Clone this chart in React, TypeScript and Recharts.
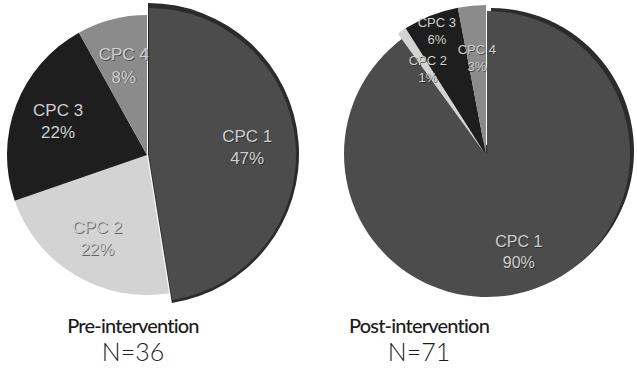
import React from "react";
import { Cell, Pie, PieChart } from "recharts";

const categories = ["CPC 1", "CPC 2", "CPC 3", "CPC 4"];
const preValues = [47, 22, 22, 8];
const postValues = [90, 1, 6, 3];
const titles = ["Pre-intervention", "Post-intervention"];
const counts = ["N=36", "N=71"];

const sliceColors = ["#4b4c4b", "#d3d3d3", "#1e1e1e", "#8b8b8b"];
const rimColor = "#2b2b2b";
const RADIAN = Math.PI / 180;

const preData = categories.map((name, i) => ({ name, value: preValues[i] }));
const postData = categories.map((name, i) => ({ name, value: postValues[i] }));

type Layout = {
  rest: [number, number, number];
  main: [number, number, number];
  rim: [number, number, number];
  labelR: number[];
  fontSize: number[];
};

const preLayout: Layout = {
  rest: [147, 155, 140],
  main: [149, 155, 147],
  rim: [148, 154, 151],
  labelR: [0.67, 0.69, 0.68, 0.66],
  fontSize: [17, 17, 17, 17]
};

const postLayout: Layout = {
  rest: [486, 155, 150],
  main: [487, 154, 143],
  rim: [491, 151, 143],
  labelR: [0.72, 0.69, 0.89, 0.65],
  fontSize: [16, 13, 13, 13]
};

function makeLabel(layout: Layout, only: (i: number) => boolean) {
  return (props: any) => {
    const { cx, cy, midAngle, outerRadius, index, name, value } = props;
    if (!only(index)) return null;
    const r = outerRadius * layout.labelR[index];
    const x = cx + r * Math.cos(-midAngle * RADIAN);
    const y = cy + r * Math.sin(-midAngle * RADIAN);
    const fs = layout.fontSize[index];
    const gap = fs * 1.3;
    const common = {
      textAnchor: "middle" as const,
      fontFamily: "'Liberation Sans', Arial, sans-serif",
      fontSize: fs
    };
    return (
      <g key={`lbl-${index}`}>
        <text x={x + 0.8} y={y - gap / 2 + fs * 0.35 + 0.8} fill="#1a1a1a" fillOpacity={0.6} {...common}>{name}</text>
        <text x={x + 0.8} y={y + gap / 2 + fs * 0.35 + 0.8} fill="#1a1a1a" fillOpacity={0.6} {...common}>{value}%</text>
        <text x={x} y={y - gap / 2 + fs * 0.35} fill="#cfcfcf" {...common}>{name}</text>
        <text x={x} y={y + gap / 2 + fs * 0.35} fill="#cfcfcf" {...common}>{value}%</text>
      </g>
    );
  };
}

function piePieces(data: { name: string; value: number }[], layout: Layout, key: string) {
  const common = {
    data,
    dataKey: "value",
    nameKey: "name",
    startAngle: 90,
    endAngle: -270,
    stroke: "none",
    isAnimationActive: false,
    labelLine: false
  };
  return [
    <Pie key={`${key}-rim`} {...common} cx={layout.rim[0]} cy={layout.rim[1]} outerRadius={layout.rim[2]}>
      {data.map((_, i) => (
        <Cell key={i} fill={i === 0 ? rimColor : "transparent"} />
      ))}
    </Pie>,
    <Pie
      key={`${key}-main`}
      {...common}
      cx={layout.main[0]}
      cy={layout.main[1]}
      outerRadius={layout.main[2]}
      label={makeLabel(layout, (i) => i === 0)}
    >
      {data.map((_, i) => (
        <Cell key={i} fill={i === 0 ? sliceColors[0] : "transparent"} />
      ))}
    </Pie>,
    <Pie
      key={`${key}-rest`}
      {...common}
      cx={layout.rest[0]}
      cy={layout.rest[1]}
      outerRadius={layout.rest[2]}
      label={makeLabel(layout, (i) => i !== 0)}
    >
      {data.map((_, i) => (
        <Cell key={i} fill={i === 0 ? "transparent" : sliceColors[i]} />
      ))}
    </Pie>
  ];
}

export default function App() {
  const titleX = [133, 419];
  return (
    <div style={{ position: "absolute", left: 0, top: 0, width: 637, height: 371, background: "#ffffff" }}>
      <PieChart width={637} height={371} margin={{ top: 0, right: 0, bottom: 0, left: 0 }}>
        {piePieces(preData, preLayout, "pre")}
        {piePieces(postData, postLayout, "post")}
      </PieChart>
      <svg width={637} height={371} style={{ position: "absolute", left: 0, top: 0, pointerEvents: "none" }}>
        {titles.map((t, i) => (
          <g key={t}>
            <text
              x={titleX[i]}
              y={333}
              textAnchor="middle"
              fontFamily="Lato, sans-serif"
              fontWeight={500}
              fontSize={20}
              letterSpacing={-0.8}
              fill="#1c1c1c"
            >
              {t}
            </text>
            <text
              x={titleX[i]}
              y={361}
              textAnchor="middle"
              fontFamily="Lato, sans-serif"
              fontWeight={300}
              fontSize={25}
              fill="#1c1c1c"
            >
              {counts[i]}
            </text>
          </g>
        ))}
      </svg>
    </div>
  );
}
